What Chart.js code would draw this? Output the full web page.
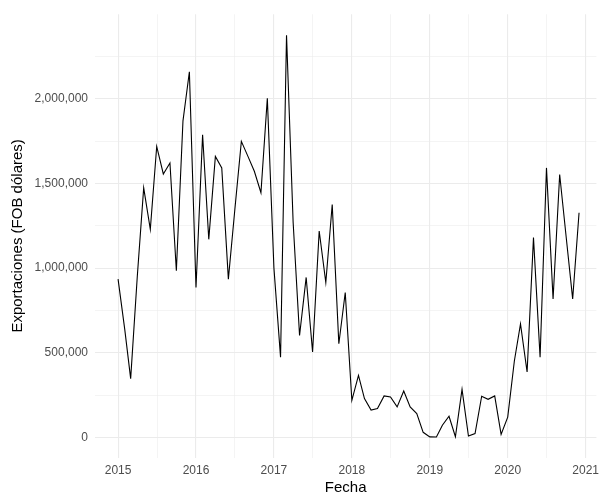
<!DOCTYPE html>
<html>
<head>
<meta charset="utf-8">
<script src="https://cdn.jsdelivr.net/npm/chart.js@4.4.1/dist/chart.umd.min.js"></script>
<style>
  html, body { margin: 0; padding: 0; background: #ffffff; }
  #wrap { width: 605px; height: 495px; }
</style>
</head>
<body>
<div id="wrap"><canvas id="c" width="605" height="495"></canvas></div>
<script>
// ---- Data (monthly exports, FOB dollars) ----
const years = [2015, 2016, 2017, 2018, 2019, 2020];
const exp2015 = [935000, 641000, 347000, 950000, 1474000, 1229000, 1719000, 1556000, 1621000, 984000, 1870000, 2160000];
const exp2016 = [886000, 1788000, 1170000, 1660000, 1592000, 935000, 1340000, 1749000, 1660000, 1572000, 1445000, 2003000];
const exp2017 = [1000000, 474000, 2376000, 1270000, 602000, 945000, 504000, 1219000, 915000, 1376000, 553000, 856000];
const exp2018 = [219000, 366000, 229000, 161000, 171000, 245000, 239000, 180000, 274000, 180000, 141000, 30000];
const exp2019 = [3000, 2000, 72000, 125000, 4000, 284000, 8000, 23000, 243000, 225000, 245000, 18000];
const exp2020 = [120000, 450000, 670000, 386000, 1180000, 474000, 1592000, 818000, 1553000, 1190000, 818000, 1327000];
const seriesByYear = [exp2015, exp2016, exp2017, exp2018, exp2019, exp2020];

const xTickLabels = ['2015', '2016', '2017', '2018', '2019', '2020', '2021'];
const yTickLabels = ['0', '500,000', '1,000,000', '1,500,000', '2,000,000'];
const xTitle = 'Fecha';
const yTitle = 'Exportaciones (FOB dólares)';

// Build points: x = decimal year of the 1st day of each month
function decYear(y, m) {
  const s = Date.UTC(y, 0, 1), e = Date.UTC(y + 1, 0, 1);
  return y + (Date.UTC(y, m, 1) - s) / (e - s);
}
const points = [];
years.forEach((y, i) => {
  seriesByYear[i].forEach((v, m) => points.push({ x: decYear(y, m), y: v }));
});

const xMajor = xTickLabels.map(Number);
const xTicks = [];
xMajor.forEach((v, i) => { xTicks.push(v); if (i < xMajor.length - 1) xTicks.push(v + 0.5); });
const yMajor = yTickLabels.map(s => Number(s.replace(/,/g, '')));
const yTicks = [];
yMajor.forEach(v => { yTicks.push(v); yTicks.push(v + 250000); });

const gridColor = '#ebebeb';
const labelColor = '#4d4d4d';
const fontFamily = '"Liberation Sans", Arial, sans-serif';

new Chart(document.getElementById('c'), {
  type: 'line',
  data: {
    datasets: [{
      data: points,
      borderColor: '#000000',
      borderWidth: 1.1,
      pointRadius: 0,
      tension: 0,
      fill: false
    }]
  },
  options: {
    responsive: false,
    animation: false,
    events: [],
    layout: { padding: { top: 12.3, right: 0, bottom: 0, left: 0 } },
    plugins: { legend: { display: false }, tooltip: { enabled: false } },
    scales: {
      x: {
        type: 'linear',
        min: 2014.704,
        max: 2021.138,
        afterFit: s => { s.height = 37.4; },
        afterBuildTicks: s => { s.ticks = xTicks.map(v => ({ value: v })); },
        border: { display: false },
        grid: {
          color: gridColor,
          drawTicks: false,
          lineWidth: ctx => (ctx.tick && Math.abs(ctx.tick.value % 1) < 1e-9) ? 1.1 : 0.55
        },
        ticks: {
          padding: 6,
          color: labelColor,
          font: { family: fontFamily, size: 12 },
          maxRotation: 0,
          autoSkip: false,
          callback: v => { const i = xMajor.indexOf(v); return i >= 0 ? xTickLabels[i] : ''; }
        },
        title: {
          display: true,
          text: xTitle,
          color: '#000000',
          font: { family: fontFamily, size: 15, lineHeight: 1 },
          padding: { top: 0, bottom: 0 }
        }
      },
      y: {
        type: 'linear',
        min: -119400,
        max: 2500000,
        afterFit: s => { s.width = 95; },
        afterBuildTicks: s => { s.ticks = yTicks.map(v => ({ value: v })); },
        border: { display: false },
        grid: {
          color: gridColor,
          drawTicks: false,
          lineWidth: ctx => (ctx.tick && ctx.tick.value % 500000 === 0) ? 1.1 : 0.55
        },
        ticks: {
          padding: 7,
          color: labelColor,
          font: { family: fontFamily, size: 12 },
          autoSkip: false,
          callback: v => { const i = yMajor.indexOf(v); return i >= 0 ? yTickLabels[i] : ''; }
        },
        title: {
          display: true,
          text: yTitle,
          color: '#000000',
          font: { family: fontFamily, size: 15, lineHeight: 1 },
          padding: { top: 10.5, bottom: 0 }
        }
      }
    }
  }
});
</script>
</body>
</html>
